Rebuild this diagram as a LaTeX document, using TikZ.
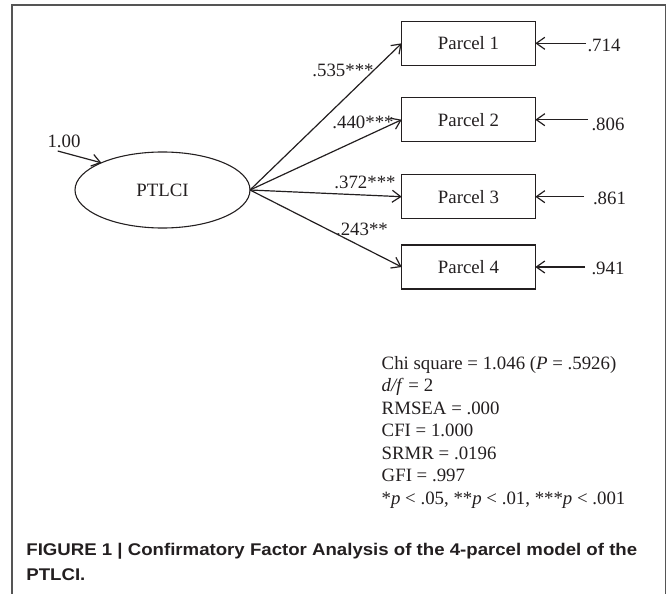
\documentclass[tikz,border=0pt]{standalone}
\usepackage{fontspec}
\setmainfont{Liberation Serif}
\newfontfamily\capfont[FakeStretch=1.1]{Liberation Sans}
\usetikzlibrary{arrows.meta,shapes.geometric}
\definecolor{ink}{HTML}{231F20}
\definecolor{framec}{HTML}{555555}
\begin{document}
\begin{tikzpicture}[x=1bp,y=-1bp,
  every node/.style={inner sep=0pt, outer sep=0pt, text=ink},
  tnr/.style={font=\fontsize{18.9}{22}\selectfont},
  lbl/.style={tnr, anchor=base},
  lblw/.style={tnr, anchor=base west},
  parcel/.style={draw=ink, line width=1.1bp, minimum width=133.6bp, minimum height=44bp, tnr},
  latent/.style={ellipse, draw=ink, line width=1.1bp, minimum width=175bp, minimum height=76bp, tnr},
  conn/.style={draw=ink, line width=1.2bp, -{Straight Barb[length=8.5bp,width=12bp]}},
  capline/.style={font=\capfont\bfseries\fontsize{17}{20}\selectfont, anchor=base west}]
\useasboundingbox (0,0) rectangle (667,594);
% frame
\draw[framec, line width=1.4bp] (12,594) -- (12,5) -- (665.5,5) -- (665.5,594);
% nodes
\node[latent] (ptlci) at (162.5,190) {PTLCI};
\node[parcel] (p1) at (468.5,43.3) {Parcel 1};
\node[parcel] (p2) at (468.5,119.7) {Parcel 2};
\node[parcel] (p3) at (468.5,196.7) {Parcel 3};
\node[parcel] (p4) at (468.5,267) {Parcel 4};
% latent variance
\coordinate (v0) at (57.7,151);
\draw[conn] (v0) -- (ptlci.156);
\node[lbl] (lv) at (64,148) {1.00};
% loadings
\draw[conn] (ptlci.east) -- (p1.west);
\draw[conn] (ptlci.east) -- (p2.west);
\draw[conn] (ptlci.east) -- (p3.west);
\draw[conn] (ptlci.east) -- (p4.west);
\node[lbl] (l1) at (343,76.7) {.535***};
\node[lbl] (l2) at (363,129) {.440***};
\node[lbl] (l3) at (365,188.5) {.372***};
\node[lbl] (l4) at (362,235) {.243**};
% errors
\coordinate (e1) at (586,43.3);
\coordinate (e2) at (588,119.7);
\coordinate (e3) at (584,196.7);
\coordinate (e4) at (585,267);
\draw[conn] (e1) -- (p1.east);
\draw[conn] (e2) -- (p2.east);
\draw[conn] (e3) -- (p3.east);
\draw[conn] (e4) -- (p4.east);
\node[lblw] (r1) at (587.5,51.5) {.714};
\node[lblw] (r2) at (591.5,130.5) {.806};
\node[lblw] (r3) at (593,204.5) {.861};
\node[lblw] (r4) at (591.5,274) {.941};
% fit statistics
\node[lblw] (s1) at (381.7,369.3) {Chi square = 1.046 (\textit{P} = .5926)};
\node[lblw] (s2) at (381.7,391.8) {\textit{d/f} = 2};
\node[lblw] (s3) at (381.7,414.3) {RMSEA = .000};
\node[lblw] (s4) at (381.7,436.8) {CFI = 1.000};
\node[lblw] (s5) at (381.7,459.3) {SRMR = .0196};
\node[lblw] (s6) at (381.7,481.8) {GFI = .997};
\node[lblw] (s7) at (381.7,504.3) {*\textit{p} < .05, **\textit{p} < .01, ***\textit{p} < .001};
% caption
\node[capline] (c1) at (26.4,555) {FIGURE 1 | Confirmatory Factor Analysis of the 4-parcel model of the};
\node[capline] (c2) at (26.4,580.7) {PTLCI.};
\end{tikzpicture}
\end{document}
